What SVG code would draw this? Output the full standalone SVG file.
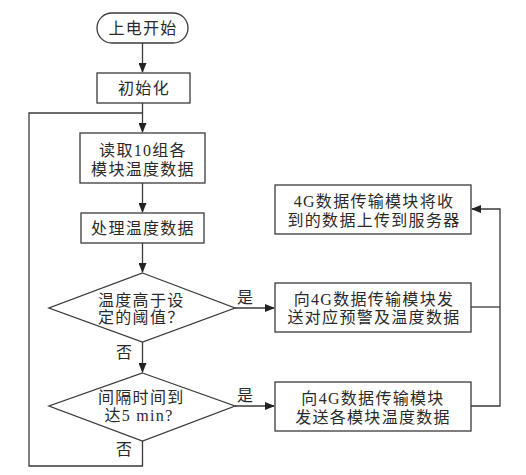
<svg xmlns="http://www.w3.org/2000/svg" width="526" height="475" viewBox="0 0 526 475">
<style>
.n{fill:#fff;stroke:#3a3a3a;stroke-width:1.3}
.t{font-family:"Liberation Serif","Noto Sans CJK SC",serif;font-size:16px;fill:#2a2a2a;letter-spacing:1.3px}
.c{text-anchor:middle}
.l{fill:none;stroke:#3a3a3a;stroke-width:1.3}
</style>
<defs>
<marker id="ah" markerWidth="10" markerHeight="8" refX="9" refY="4" orient="auto" markerUnits="userSpaceOnUse">
<path d="M0,0 L10,4 L0,8 Z" fill="#222"/>
</marker>
</defs>
<rect width="526" height="475" fill="#fff"/>
<g id="connectors">
<path class="l" d="M142.5,43 V72" marker-end="url(#ah)"/>
<path class="l" d="M142.5,103 V132" marker-end="url(#ah)"/>
<path class="l" d="M142.5,183 V212" marker-end="url(#ah)"/>
<path class="l" d="M142.5,243 V272" marker-end="url(#ah)"/>
<path class="l" d="M142.5,342 V372" marker-end="url(#ah)"/>
<path class="l" d="M235,308 H274" marker-end="url(#ah)"/>
<path class="l" d="M235,406 H274" marker-end="url(#ah)"/>
<path class="l" d="M142.5,441 V466 H29 V113 H142.5"/>
<path class="l" d="M471,307 H500"/>
<path class="l" d="M471,406 H500 V209 H472" marker-end="url(#ah)"/>
<text class="t" x="237" y="303">是</text>
<text class="t" x="237" y="401">是</text>
<text class="t" x="116" y="358">否</text>
<text class="t" x="116" y="455">否</text>
</g>
<g id="start">
<rect class="n" x="97" y="13" width="91" height="30" rx="15"/>
<text class="t c" x="143" y="34">上电开始</text>
</g>
<g id="init">
<rect class="n" x="97" y="73" width="93" height="30"/>
<text class="t c" x="144" y="94">初始化</text>
</g>
<g id="read">
<rect class="n" x="80" y="133" width="125" height="50"/>
<text class="t c" x="143" y="156">读取10组各</text>
<text class="t c" x="143" y="175">模块温度数据</text>
</g>
<g id="process">
<rect class="n" x="81" y="213" width="123" height="30"/>
<text class="t c" x="143" y="234">处理温度数据</text>
</g>
<g id="dec1">
<polygon class="n" points="142.5,273 235,308 142.5,342 49,308"/>
<text class="t" x="98" y="306">温度高于设</text>
<text class="t" x="98" y="323">定的阈值？</text>
</g>
<g id="dec2">
<polygon class="n" points="142.5,373 235,406 142.5,441 49,406"/>
<text class="t" x="98" y="403">间隔时间到</text>
<text class="t c" x="139" y="421">达5 min?</text>
</g>
<g id="upload">
<rect class="n" x="275" y="185" width="196" height="49"/>
<text class="t c" x="374" y="207">4G数据传输模块将收</text>
<text class="t c" x="374" y="226">到的数据上传到服务器</text>
</g>
<g id="alarm">
<rect class="n" x="275" y="283" width="196" height="49"/>
<text class="t c" x="374" y="305">向4G数据传输模块发</text>
<text class="t c" x="374" y="323">送对应预警及温度数据</text>
</g>
<g id="send">
<rect class="n" x="275" y="382" width="196" height="49"/>
<text class="t c" x="373" y="404">向4G数据传输模块</text>
<text class="t c" x="373" y="423">发送各模块温度数据</text>
</g>
</svg>
